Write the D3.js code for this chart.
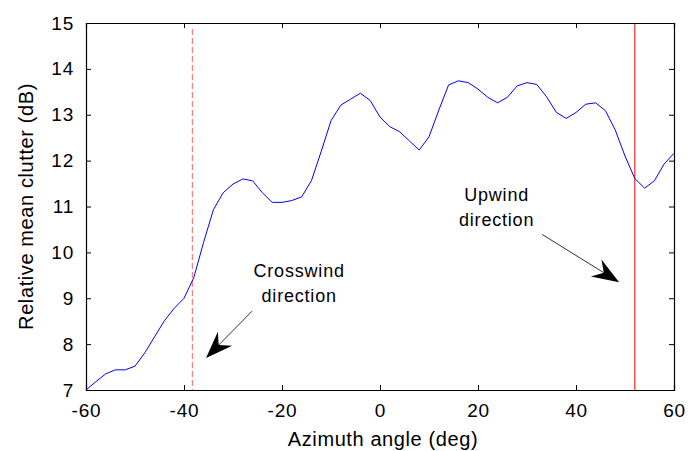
<!DOCTYPE html>
<html>
<head>
<meta charset="utf-8">
<script src="https://cdn.jsdelivr.net/npm/d3@7"></script>
<style>
  body { margin: 0; background: #fff; }
  text { font-family: "Liberation Sans", Arial, sans-serif; fill: #000; }
</style>
</head>
<body>
<svg id="chart" width="688" height="451"></svg>
<script>
// Chart data
const angles = [-60,-58,-56,-54,-52,-50,-48,-46,-44,-42,-40,-38,-36,-34,-32,-30,-28,-26,-24,-22,
  -20,-18,-16,-14,-12,-10,-8,-6,-4,-2,0,2,4,6,8,10,12,14,16,18,20,22,24,26,28,30,32,34,36,38,
  40,42,44,46,48,50,52,54,56,58,60];
const clutter = [7.00,7.18,7.35,7.44,7.44,7.52,7.81,8.16,8.51,8.78,9.00,9.45,10.22,10.93,11.30,11.49,11.60,11.56,11.30,11.09,
  11.09,11.13,11.21,11.56,12.20,12.87,13.21,13.34,13.47,13.31,12.95,12.74,12.63,12.43,12.23,12.52,13.10,13.65,13.74,13.70,
  13.56,13.38,13.26,13.38,13.63,13.70,13.66,13.39,13.05,12.92,13.05,13.23,13.26,13.09,12.67,12.10,11.61,11.40,11.56,11.93,12.16];
const xTicks = [-60,-40,-20,0,20,40,60];
const yTicks = [7,8,9,10,11,12,13,14,15];
const crosswindAngle = -38.3;
const upwindAngle = 52;
// annotations: label lines, text anchor (deg, dB), arrow tail (deg, dB), arrow tip (deg, dB)
const notes = [
  { lines: ["Crosswind", "direction"], at: [-16.5, 9.46], tail: [-26.1, 8.72], tip: [-35.5, 7.70] },
  { lines: ["Upwind", "direction"], at: [23.8, 11.12], tail: [33.1, 10.39], tip: [48.8, 9.35] }
];

const margin = { top: 23, right: 14, bottom: 61, left: 86 };
const width = 688 - margin.left - margin.right;
const height = 451 - margin.top - margin.bottom;

const svg = d3.select("#chart");
const g = svg.append("g").attr("transform", `translate(${margin.left},${margin.top})`);

const x = d3.scaleLinear().domain([-60, 60]).range([0, width]);
const y = d3.scaleLinear().domain([7, 15]).range([height, 0]);

// Reference lines
g.append("line")
  .attr("x1", x(crosswindAngle)).attr("x2", x(crosswindAngle))
  .attr("y1", 6).attr("y2", height)
  .attr("stroke", "#ff6666").attr("stroke-width", 1)
  .attr("stroke-dasharray", "6,3");
g.append("line")
  .attr("x1", x(upwindAngle)).attr("x2", x(upwindAngle))
  .attr("y1", 0).attr("y2", height)
  .attr("stroke", "#ff0000").attr("stroke-width", 1);

// Data line
const line = d3.line().x((d, i) => x(angles[i])).y(d => y(d));
g.append("path")
  .datum(clutter)
  .attr("d", line)
  .attr("fill", "none")
  .attr("stroke", "#0000ff")
  .attr("stroke-width", 1);

// Axes (MATLAB box with inward ticks), plain hyphen for negatives
const tickLen = 5;
const fmt = d => String(d);
g.append("g").attr("transform", `translate(0,${height})`)
  .call(d3.axisBottom(x).tickValues(xTicks).tickSize(-tickLen).tickPadding(tickLen + 9).tickFormat(fmt));
g.append("g")
  .call(d3.axisLeft(y).tickValues(yTicks).tickSize(-tickLen).tickPadding(tickLen + 7).tickFormat(fmt));
g.append("g").call(d3.axisTop(x).tickValues(xTicks).tickSize(-tickLen).tickFormat(""));
g.append("g").attr("transform", `translate(${width},0)`)
  .call(d3.axisRight(y).tickValues(yTicks).tickSize(-tickLen).tickFormat(""));

g.selectAll(".domain").attr("stroke", "#000").attr("stroke-width", 1.2);
g.selectAll(".tick line").attr("stroke", "#000");
g.selectAll(".tick text")
  .style("font-size", "19px")
  .style("letter-spacing", "0.8px")
  .style("font-family", "'Liberation Sans', Arial, sans-serif")
  .attr("fill", "#000");

// Axis labels
g.append("text")
  .attr("x", width / 2 + 3)
  .attr("y", height + 56)
  .attr("text-anchor", "middle")
  .style("font-size", "20px")
  .style("letter-spacing", "0.6px")
  .text("Azimuth angle (deg)");
g.append("text")
  .attr("transform", `translate(${-53},${height / 2}) rotate(-90)`)
  .attr("text-anchor", "middle")
  .style("font-size", "20px")
  .style("letter-spacing", "0.6px")
  .text("Relative mean clutter (dB)");

// Annotations with arrows
notes.forEach(n => {
  const t = g.append("text")
    .attr("text-anchor", "middle")
    .style("font-size", "18px")
    .style("letter-spacing", "0.8px");
  n.lines.forEach((s, i) => {
    t.append("tspan")
      .attr("x", x(n.at[0]))
      .attr("y", y(n.at[1]) + i * 25)
      .text(s);
  });

  const x0 = x(n.tail[0]), y0 = y(n.tail[1]);
  const x1 = x(n.tip[0]), y1 = y(n.tip[1]);
  const dx = x1 - x0, dy = y1 - y0;
  const len = Math.hypot(dx, dy);
  const ux = dx / len, uy = dy / len;
  const px = -uy, py = ux;
  const headLen = 27, headHalf = 10, notch = 18;
  const bx = x1 - ux * headLen, by = y1 - uy * headLen;
  const nx = x1 - ux * notch, ny = y1 - uy * notch;

  g.append("line")
    .attr("x1", x0).attr("y1", y0)
    .attr("x2", nx).attr("y2", ny)
    .attr("stroke", "#000").attr("stroke-width", 0.8);
  g.append("path")
    .attr("d", `M${x1},${y1}L${bx + px * headHalf},${by + py * headHalf}L${nx},${ny}L${bx - px * headHalf},${by - py * headHalf}Z`)
    .attr("fill", "#000");
});
</script>
</body>
</html>
